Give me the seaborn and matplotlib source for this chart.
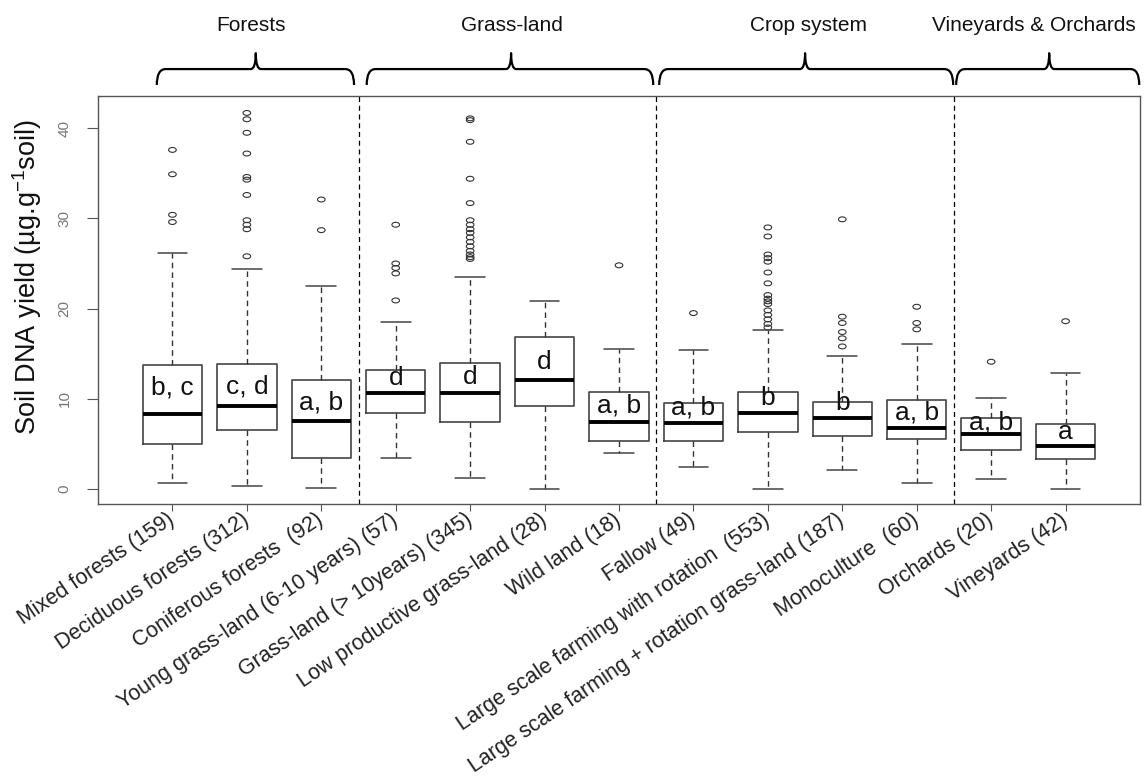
import numpy as np
import pandas as pd
import matplotlib
matplotlib.use('Agg')
import matplotlib.pyplot as plt
import matplotlib.transforms as mtransforms
from matplotlib.path import Path
from matplotlib.patches import PathPatch
import seaborn as sns

# ---- data ----------------------------------------------------------------
categories = [
    'Mixed forests (159)', 'Deciduous forests (312)', 'Coniferous forests  (92)',
    'Young grass-land (6-10 years) (57)', 'Grass-land (> 10years) (345)',
    'Low productive grass-land (28)', 'Wild land (18)', 'Fallow (49)',
    'Large scale farming with rotation  (553)',
    'Large scale farming + rotation grass-land (187)',
    'Monoculture  (60)', 'Orchards (20)', 'Vineyards (42)',
]
whislo = [0.7, 0.3, 0.15, 3.4, 1.25, 0.0, 4.0, 2.4, 0.0, 2.05, 0.7, 1.05, 0.0]
q1     = [5.0, 6.5, 3.45, 8.4, 7.4, 9.2, 5.35, 5.3, 6.3, 5.85, 5.55, 4.3, 3.35]
med    = [8.3, 9.2, 7.5, 10.6, 10.6, 12.05, 7.45, 7.35, 8.4, 7.9, 6.7, 6.05, 4.8]
q3     = [13.7, 13.9, 12.05, 13.2, 14.0, 16.8, 10.75, 9.5, 10.75, 9.6, 9.85, 7.85, 7.15]
whishi = [26.2, 24.4, 22.5, 18.5, 23.5, 20.8, 15.5, 15.4, 17.6, 14.7, 16.1, 10.05, 12.8]
outliers = [
    [37.6, 34.9, 30.4, 29.6],
    [41.7, 41.0, 39.5, 37.2, 34.6, 34.3, 32.6, 29.8, 29.3, 28.8, 25.8],
    [32.1, 28.7],
    [29.3, 25.0, 24.5, 23.9, 20.9],
    [41.1, 40.9, 38.5, 34.4, 31.7, 29.8, 29.3, 28.8, 28.4, 27.9, 27.4,
     26.9, 26.4, 26.0, 25.7, 25.5],
    [],
    [24.8],
    [19.5],
    [29.0, 28.0, 26.0, 25.6, 25.2, 24.0, 22.8, 21.5, 21.1, 20.8, 20.5,
     19.8, 19.3, 18.8, 18.3, 17.9],
    [29.9, 19.1, 18.4, 17.4, 16.7, 15.8],
    [20.2, 18.4, 17.7],
    [14.1],
    [18.6],
]
letters  = ['b, c', 'c, d', 'a, b', 'd', 'd', 'd', 'a, b',
            'a, b', 'b', 'b', 'a, b', 'a, b', 'a']
letter_y = [11.2, 11.3, 9.6, 12.3, 12.4, 14.1, 9.3, 9.0, 10.1, 9.5, 8.5, 7.4, 6.3]

groups = ['Forests', 'Grass-land', 'Crop system', 'Vineyards & Orchards']
# bracket (left tip, peak, right tip) and label x, in box-position units
group_brackets = [(-0.21, 1.12, 2.44), (2.61, 4.55, 6.46),
                  (6.54, 8.5, 10.49), (10.53, 11.78, 12.99)]
group_label_x = [1.06, 4.56, 8.54, 11.57]
separators = [2.5, 6.5, 10.5]

# ---- figure -----------------------------------------------------------------
sns.set_style('ticks')
plt.rcParams['font.family'] = ['Liberation Sans', 'DejaVu Sans']
plt.rcParams['mathtext.fontset'] = 'custom'
plt.rcParams['mathtext.rm'] = 'Liberation Sans'

W, H = 1146, 782
fig = plt.figure(figsize=(W / 100, H / 100), dpi=100)
ax = fig.add_axes([98 / W, 1 - 504 / H, (1140 - 98) / W, (504 - 96) / H])

positions = np.arange(len(categories))
stats = [dict(med=m, q1=a, q3=b, whislo=lo, whishi=hi, fliers=[])
         for m, a, b, lo, hi in zip(med, q1, q3, whislo, whishi)]
ax.bxp(stats, positions=positions, widths=0.8, capwidths=0.4,
       showfliers=False, patch_artist=False,
       boxprops=dict(color='#444444', lw=1.2),
       medianprops=dict(color='black', lw=2.8),
       whiskerprops=dict(color='#333333', lw=1.0, ls=(0, (4, 3))),
       capprops=dict(color='#444444', lw=1.1))

# outliers
df_out = pd.DataFrame({
    'pos': np.concatenate([[i] * len(o) for i, o in enumerate(outliers)]),
    'value': np.concatenate([o for o in outliers if len(o)]),
})
t = np.linspace(0, 2 * np.pi, 40)
ellipse = Path(np.column_stack([np.cos(t), 0.64 * np.sin(t)]), closed=True)
sns.scatterplot(data=df_out, x='pos', y='value', marker=ellipse, s=30,
                color='#333333', edgecolor='#333333', linewidth=0.8,
                legend=False, ax=ax)
ax.collections[-1].set_facecolor('none')

# group letters
for i, (lab, y) in enumerate(zip(letters, letter_y)):
    ax.text(i, y, lab, ha='center', va='center', fontsize=19, color='#111111')

for x in separators:
    ax.axvline(x, color='black', lw=0.9, ls=(0, (4, 3)))

ax.set_xlim(-1, 13)
ax.set_ylim(-1.68, 43.58)
ax.set_xlabel('')
ax.set_ylabel('')

ax.set_yticks([0, 10, 20, 30, 40])
ax.set_yticklabels(['0', '10', '20', '30', '40'], rotation=90, va='center')
ax.tick_params(axis='y', length=8, width=0.8, color='#555555',
               labelcolor='#777777', labelsize=11, pad=11)

ax.set_xticks(positions)
ax.set_xticklabels(categories, rotation=34, ha='right', va='center',
                   rotation_mode='anchor', fontsize=15.5)
ax.tick_params(axis='x', length=5, width=0.8, color='#555555',
               labelcolor='#222222', pad=5)

for s in ax.spines.values():
    s.set_visible(True)
    s.set_color('#555555')
    s.set_linewidth(1.0)

fig.text(27 / W, 1 - 277 / H, r'Soil DNA yield (µg.g$^{\mathrm{-1}}$soil)',
         rotation=90, ha='center', va='center', fontsize=19.5, color='#111111')

# group brackets on top
trans = mtransforms.blended_transform_factory(ax.transData, ax.transAxes)
yb, yh, yp = 1.027, 1.066, 1.105
for (x0, xc, x1), lx, name in zip(group_brackets, group_label_x, groups):
    r, r2 = 0.12, 0.07
    verts = [(x0, yb), (x0, yh), (x0 + r, yh), (xc - r2, yh), (xc, yh), (xc, yp),
             (xc, yh), (xc + r2, yh), (x1 - r, yh), (x1, yh), (x1, yb)]
    codes = [Path.MOVETO, Path.CURVE3, Path.CURVE3, Path.LINETO, Path.CURVE3,
             Path.CURVE3, Path.CURVE3, Path.CURVE3, Path.LINETO, Path.CURVE3,
             Path.CURVE3]
    ax.add_patch(PathPatch(Path(verts, codes), transform=trans, fill=False,
                           lw=1.6, color='black', clip_on=False,
                           capstyle='butt', joinstyle='round'))
    ax.text(lx, 1.172, name, transform=trans, ha='center', va='center',
            fontsize=15, color='#111111')

fig.savefig('out.png', dpi=100)
plt.close(fig)
